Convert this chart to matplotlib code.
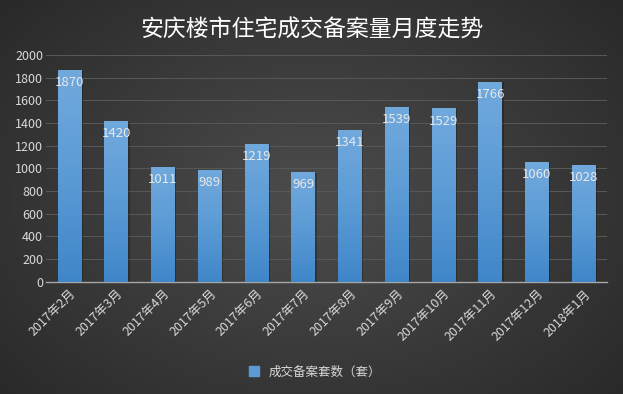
import numpy as np
import matplotlib
matplotlib.use("Agg")
import matplotlib.pyplot as plt
from matplotlib.patches import Rectangle
from matplotlib.colors import LinearSegmentedColormap
from matplotlib.lines import Line2D

plt.rcParams['font.family'] = ['Noto Sans CJK SC', 'DejaVu Sans']

categories = ["2017年2月", "2017年3月", "2017年4月", "2017年5月", "2017年6月", "2017年7月",
              "2017年8月", "2017年9月", "2017年10月", "2017年11月", "2017年12月", "2018年1月"]
values = [1870, 1420, 1011, 989, 1219, 969, 1341, 1539, 1529, 1766, 1060, 1028]
title = "安庆楼市住宅成交备案量月度走势"
series_name = "成交备案套数（套）"
yticks = [0, 200, 400, 600, 800, 1000, 1200, 1400, 1600, 1800, 2000]

fig = plt.figure(figsize=(6.23, 3.94), dpi=100)

# radial dark background
bg = fig.add_axes([0, 0, 1, 1], zorder=-10)
yy, xx = np.mgrid[0:394, 0:623]
r = np.sqrt(((xx - 311) / 420.0) ** 2 + ((yy - 200) / 300.0) ** 2)
shade = np.clip(0.30 - 0.14 * r, 0.16, 0.30)
bg.imshow(np.dstack([shade, shade, shade]), extent=[0, 1, 0, 1], aspect='auto', origin='upper')
bg.axis('off')

ax = fig.add_axes([46 / 623, 1 - 281.7 / 394, (607 - 46) / 623, (281.7 - 55) / 394])
ax.patch.set_alpha(0)
x = np.arange(len(categories))
bars = ax.bar(x, values, width=0.5, color='none', zorder=3)

grad = np.linspace(0, 1, 256).reshape(-1, 1)
cmap = LinearSegmentedColormap.from_list('b', ['#3f86c9', '#5b9bd5', '#71a9dd'])
for b, v in zip(bars, values):
    sh = Rectangle((b.get_x() + 0.04, 0), b.get_width(), v - 8, color='black', alpha=0.25, zorder=2, lw=0)
    ax.add_patch(sh)
    im = ax.imshow(grad, extent=[b.get_x(), b.get_x() + b.get_width(), 0, v], origin='lower',
                   cmap=cmap, aspect='auto', zorder=3)
    im.set_clip_path(b)
    ax.text(b.get_x() + b.get_width() / 2, v - 112, str(v), ha='center', va='center',
            fontsize=9.5, color='#e8e8e8', zorder=5)

ax.set_xlim(-0.5, len(categories) - 0.5)
ax.set_ylim(0, 2000)
ax.set_yticks(yticks)
ax.set_yticklabels([str(t) for t in yticks], fontsize=9, color='#d9d9d9')
ax.set_xticks(x)
ax.set_xticklabels(categories, rotation=45, ha='right', rotation_mode='anchor', fontsize=9, color='#d9d9d9')
ax.tick_params(axis='both', length=0, pad=4)
ax.tick_params(axis='y', pad=2)
ax.grid(axis='y', color='#575757', lw=0.75, zorder=0)
ax.set_axisbelow(True)
for s in ['top', 'right', 'left']:
    ax.spines[s].set_visible(False)
ax.spines['bottom'].set_color('#a6a6a6')
ax.spines['bottom'].set_linewidth(1)

fig.text(0.5, 1 - 30 / 394, title, ha='center', va='center', fontsize=16.5, color='white')

h = Line2D([], [], marker='s', linestyle='none', markersize=7, color='#5b9bd5')
fig.legend([h], [series_name], loc='center', bbox_to_anchor=(0.5, 1 - 372 / 394), frameon=False,
           fontsize=9, labelcolor='#d9d9d9', handletextpad=0.2)

fig.savefig('out.png', dpi=100)
